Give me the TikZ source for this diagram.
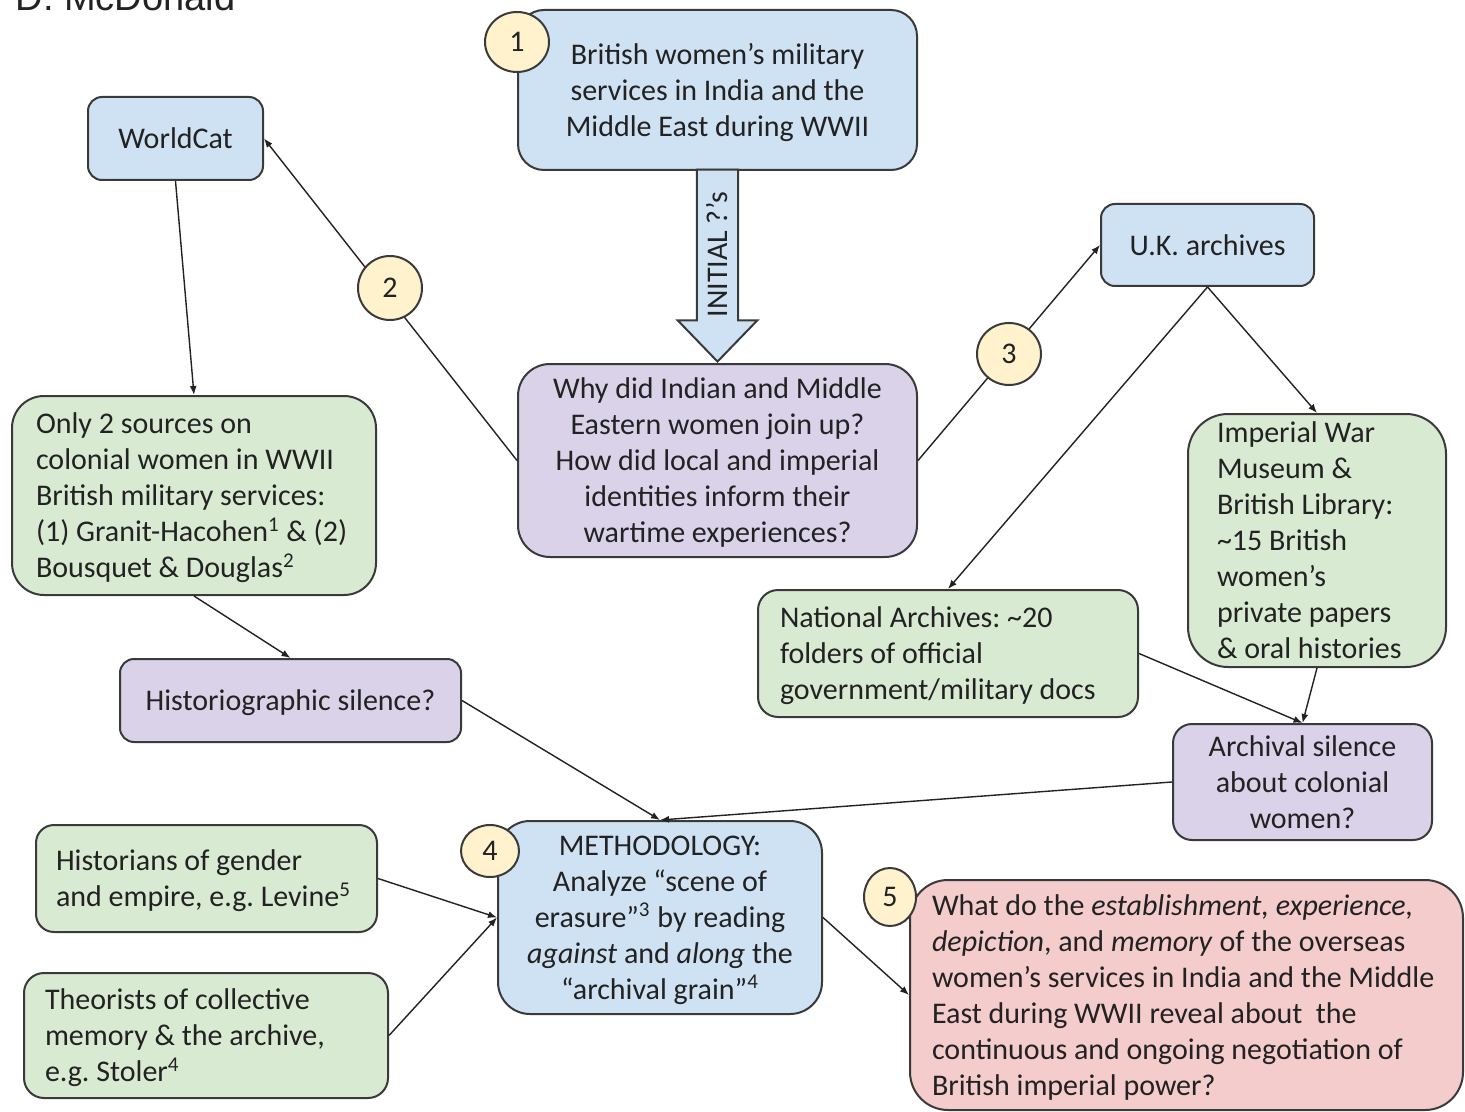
\documentclass[tikz,border=0pt]{standalone}
\usepackage{fontspec}
\setmainfont{Carlito}
\newfontfamily\titlefont{Liberation Sans}
\usetikzlibrary{arrows.meta,shapes.geometric,shapes.arrows}

\begin{document}
\begin{tikzpicture}[x=0.5pt, y=-0.5pt, font=\fontsize{15}{18}\selectfont\frenchspacing, line width=0.7pt,
  >={Latex[length=4.5pt, width=3.5pt]},
  box/.style={draw=edge, line width=1pt, text=ink, inner sep=2pt},
  bbox/.style={box, fill=blu, align=center, text depth=0pt},
  pbox/.style={box, fill=prp, align=center, text depth=0pt},
  gbox/.style={box, fill=grn, align=flush left},
  rbox/.style={box, fill=rdd, align=flush left},
  num/.style={ellipse, draw=edge, line width=1pt, fill=yel, text=ink, inner sep=0pt},
  arr/.style={->, draw=ink},
  initarrow/.style={single arrow, draw=edge, line width=1pt, fill=blu, text=ink,
    rotate=90, shape border rotate=180, minimum height=96pt, inner xsep=2pt, inner ysep=4.5pt,
    single arrow head extend=9.5pt, single arrow tip angle=88},
]
\definecolor{blu}{HTML}{CFE2F3}
\definecolor{grn}{HTML}{D9EAD3}
\definecolor{prp}{HTML}{D9D2E9}
\definecolor{rdd}{HTML}{F4CCCC}
\definecolor{yel}{HTML}{FFF2CC}
\definecolor{edge}{HTML}{3A3A3A}
\definecolor{ink}{HTML}{222222}
\path[use as bounding box, fill=white] (0,0) rectangle (1465,1112);

\node[anchor=base west, inner sep=0pt, text=ink, font=\titlefont\fontsize{19}{22}\selectfont] (ttl) at (15,11) {D. McDonald};

% ---------------- questions ----------------
\node[bbox, rounded corners=13pt, minimum width=199.5pt, minimum height=80pt] (start) at (717.5,90) {British women’s military\\services in India and the\\Middle East during WWII};
\node[pbox, rounded corners=16pt, minimum width=199.5pt, minimum height=96.5pt] (quest) at (717.5,460.5) {Why did Indian and Middle\\Eastern women join up?\\How did local and imperial\\identities inform their\\wartime experiences?};
\node[initarrow, anchor=tip] (initq) at (quest.north) {INITIAL ?’s};

% ---------------- left branch ----------------
\node[bbox, rounded corners=7pt, minimum width=87.5pt, minimum height=41.5pt] (wcat) at (175.5,138.5) {WorldCat};
\node[gbox, rounded corners=16pt, text width=158pt, inner xsep=12pt, text depth=72pt, minimum height=99.5pt] (srcs) at (194,495.5) {Only 2 sources on\\colonial women in WWII\\British military services:\\(1) Granit-Hacohen\textsuperscript{1} \& (2)\\Bousquet \& Douglas\textsuperscript{2}};
\node[pbox, rounded corners=7pt, minimum width=170.5pt, minimum height=41.5pt] (histsil) at (290.5,700.5) {Historiographic silence?};

% ---------------- right branch ----------------
\node[bbox, rounded corners=7pt, minimum width=106.5pt, minimum height=41pt] (ukarch) at (1207.5,245) {U.K. archives};
\node[gbox, rounded corners=20pt, text width=100pt, inner xsep=14.5pt, text depth=108pt, minimum height=126.5pt] (iwm) at (1317,540.5) {Imperial War\\Museum \&\\British Library:\\\textasciitilde15 British\\women’s\\private papers\\\& oral histories};
\node[gbox, rounded corners=10pt, text width=168pt, inner xsep=11pt, text depth=36pt, minimum height=63.5pt] (natarch) at (948,653.5) {National Archives: \textasciitilde20\\folders of official\\government/military docs};
\node[pbox, rounded corners=9.5pt, minimum width=129.5pt, minimum height=58pt] (archsil) at (1302.5,782) {Archival silence\\about colonial\\women?};

% ---------------- method and result ----------------
\node[gbox, rounded corners=9pt, text width=150.5pt, inner xsep=10pt, text depth=18pt, minimum height=53.5pt] (histn) at (206.5,878.5) {Historians of gender\\and empire, e.g. Levine\textsuperscript{5}};
\node[gbox, rounded corners=10pt, text width=161pt, inner xsep=10.5pt, text depth=36pt, minimum height=62.5pt] (theor) at (206,1035.5) {Theorists of collective\\memory \& the archive,\\e.g. Stoler\textsuperscript{4}};
\node[bbox, rounded corners=16pt, minimum width=162pt, minimum height=96.5pt] (method) at (660,917.5) {METHODOLOGY:\\Analyze “scene of\\erasure”\textsuperscript{3} by reading\\\textit{against} and \textit{along} the\\“archival grain”\textsuperscript{4}};
\node[rbox, rounded corners=19pt, text width=254.5pt, inner xsep=11pt, text depth=90pt, minimum height=115pt] (resq) at (1186.5,995) {What do the \textit{establishment, experience,}\\\textit{depiction}, and \textit{memory} of the overseas\\women’s services in India and the Middle\\East during WWII reveal about \ the\\continuous and ongoing negotiation of\\British imperial power?};

% connectors
\draw[arr] (quest.west) -- (wcat.east);
\draw[arr] (wcat.south) -- (srcs.north);
\draw[arr] (srcs.south) -- (histsil.north);
\draw[arr] (quest.east) -- (ukarch.west);
\draw[arr] (ukarch.south) -- (natarch.north);
\draw[arr] (ukarch.south) -- (iwm.north);
\draw[arr] (natarch.east) -- (archsil.north);
\draw[arr] (iwm.south) -- (archsil.north);
\draw[arr] (histsil.east) -- (method.north);
\draw[arr] (archsil.west) -- (method.north);
\draw[arr] (histn.east) -- (method.west);
\draw[arr] (theor.east) -- (method.west);
\draw[arr] (method.east) -- (resq.west);

% step numbers
\node[num, minimum width=32pt, minimum height=30pt] (n1) at (517,42) {1};
\node[num, minimum width=32pt, minimum height=32pt] (n2) at (390,288) {2};
\node[num, minimum width=32pt, minimum height=31pt] (n3) at (1009,354) {3};
\node[num, minimum width=29pt, minimum height=26pt] (n4) at (490,851) {4};
\node[num, minimum width=26pt, minimum height=29pt] (n5) at (890,897) {5};
\end{tikzpicture}
\end{document}
